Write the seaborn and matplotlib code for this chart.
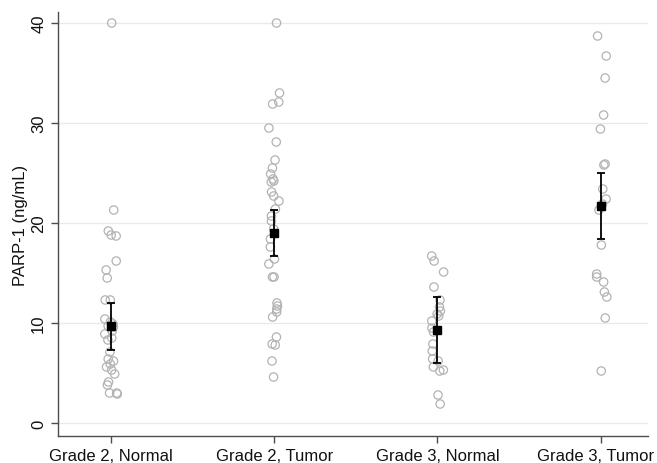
import numpy as np
import pandas as pd
import matplotlib
matplotlib.use("Agg")
import matplotlib.pyplot as plt
import matplotlib.transforms as mtransforms
import seaborn as sns

# categories on the x axis
groups = ["Grade 2, Normal", "Grade 2, Tumor", "Grade 3, Normal", "Grade 3, Tumor"]

# individual PARP-1 values (ng/mL)
g2_normal = [40.0, 21.3, 19.2, 18.8, 18.7, 16.2, 15.3, 14.5, 12.3, 12.3,
             10.4, 10.1, 9.9, 9.7, 9.6, 9.2, 8.9, 8.5, 8.3, 7.1,
             6.4, 6.2, 5.9, 5.6, 5.3, 4.9, 4.1, 3.8, 3.0, 3.0, 2.9]
g2_tumor = [40.0, 33.0, 32.1, 31.9, 29.5, 28.1, 26.3, 25.5, 24.9, 24.4,
            24.2, 24.1, 23.1, 22.7, 22.2, 21.4, 20.7, 20.2, 19.4, 18.4,
            17.6, 16.4, 15.9, 14.6, 14.6, 12.0, 11.7, 11.4, 11.1, 10.6,
            8.6, 7.9, 7.8, 6.2, 4.6]
g3_normal = [16.7, 16.2, 15.1, 13.6, 12.3, 11.6, 11.2, 10.9, 10.7, 10.2,
             9.5, 9.1, 7.9, 7.2, 6.4, 6.2, 5.6, 5.3, 5.2, 2.8, 1.9]
g3_tumor = [38.7, 36.7, 34.5, 30.8, 29.4, 25.9, 25.8, 23.4, 22.4, 21.9,
            21.3, 17.8, 14.9, 14.6, 14.1, 13.1, 12.6, 10.5, 5.2]

# group means and 95% CI bounds
means = [9.7, 19.0, 9.35, 21.7]
ci_low = [7.35, 16.7, 6.0, 18.4]
ci_high = [12.0, 21.3, 12.6, 25.0]

values = [g2_normal, g2_tumor, g3_normal, g3_tumor]
df = pd.DataFrame({
    "group": np.repeat(groups, [len(v) for v in values]),
    "parp": np.concatenate(values),
})

plt.rcParams["font.family"] = ["Liberation Sans", "DejaVu Sans"]
plt.rcParams["font.size"] = 12

fig = plt.figure(figsize=(6.57, 4.64), dpi=100)
ax = fig.add_axes([58 / 657, 1 - 437 / 464, (648 - 58) / 657, (437 - 13) / 464])

# narrow jitter like the original strip plot
np.random.seed(3)
sns.stripplot(data=df, x="group", y="parp", order=groups, ax=ax,
              jitter=0.04, size=6, color="#b3b3b3", linewidth=0.9,
              edgecolor="#b3b3b3", zorder=2)
for coll in ax.collections:
    coll.set_facecolor("none")

m = np.array(means)
ax.errorbar(range(len(groups)), m,
            yerr=[m - np.array(ci_low), np.array(ci_high) - m],
            fmt="s", color="black", ms=6.3, elinewidth=1.3, capsize=3.2,
            capthick=1.3, zorder=4)

ax.set_xlim(-0.325, 3.29)
ax.set_ylim(-1.3, 41.1)
ax.set_yticks([0, 10, 20, 30, 40])
ax.yaxis.grid(True, color="#e2edf0", lw=1)
ax.xaxis.grid(False)
ax.set_axisbelow(True)

for s in ["top", "right"]:
    ax.spines[s].set_visible(False)
for s in ["left", "bottom"]:
    ax.spines[s].set_color("#4d4d4d")
    ax.spines[s].set_linewidth(1.0)
ax.tick_params(axis="both", colors="#4d4d4d", length=5, width=1,
               labelcolor="#111111", labelsize=12)
plt.setp(ax.get_yticklabels(), rotation=90, va="center")

# last x label sits right at the figure edge; nudge it in a few pixels
last = ax.get_xticklabels()[-1]
last.set_transform(last.get_transform() +
                   mtransforms.ScaledTranslation(-5 / 100, 0, fig.dpi_scale_trans))

ax.set_xlabel("")
ax.set_ylabel("PARP-1 (ng/mL)", fontsize=12, color="#111111", labelpad=2)

fig.savefig("out.png", dpi=100)
